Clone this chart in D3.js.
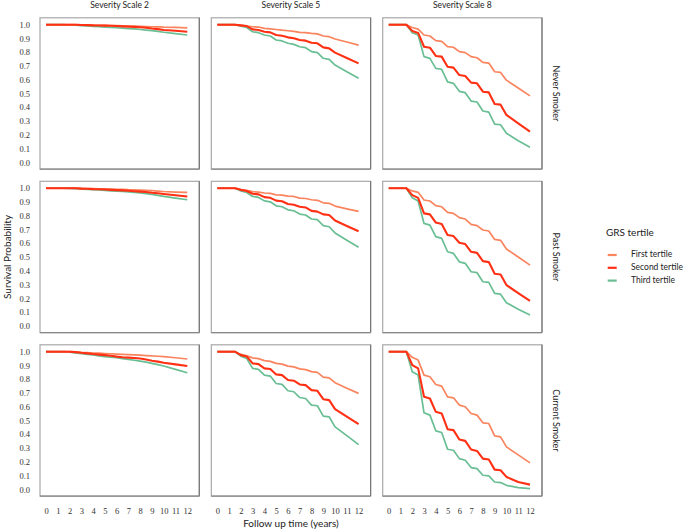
<!DOCTYPE html>
<html>
<head>
<meta charset="utf-8">
<script src="https://cdn.jsdelivr.net/npm/d3@7"></script>
<style>
  html, body { margin: 0; padding: 0; background: #fff; }
  svg { display: block; }
</style>
</head>
<body>
<svg id="chart" width="685" height="532"></svg>
<script>
// ---------- data ----------
const times = [0, 1.5, 2, 2.5, 3, 3.5, 4, 4.5, 5, 5.5, 6, 6.5, 7, 7.5, 8, 8.5, 9, 9.5, 10, 11, 12];
const severities = ["Severity Scale 2", "Severity Scale 5", "Severity Scale 8"];
const smokers = ["Never Smoker", "Past Smoker", "Current Smoker"];
const tertiles = ["First tertile", "Second tertile", "Third tertile"];
const xTicks = [0, 1, 2, 3, 4, 5, 6, 7, 8, 9, 10, 11, 12];
const yTicks = [0, 0.1, 0.2, 0.3, 0.4, 0.5, 0.6, 0.7, 0.8, 0.9, 1.0];

const never_s2_first  = [1,1,1,1,0.999,0.998,0.997,0.996,0.995,0.994,0.993,0.992,0.99,0.989,0.988,0.987,0.985,0.984,0.982,0.98,0.977];
const never_s2_second = [1,1,1,1,0.998,0.997,0.995,0.994,0.993,0.992,0.99,0.988,0.986,0.984,0.981,0.978,0.972,0.968,0.962,0.956,0.949];
const never_s2_third  = [1,1,0.998,0.996,0.993,0.991,0.988,0.986,0.983,0.98,0.978,0.975,0.972,0.969,0.965,0.961,0.957,0.951,0.945,0.935,0.925];

const never_s5_first  = [1,1,0.995,0.99,0.985,0.983,0.973,0.97,0.965,0.96,0.956,0.952,0.944,0.942,0.937,0.933,0.918,0.913,0.896,0.874,0.852];
const never_s5_second = [1,1,0.995,0.99,0.966,0.961,0.949,0.944,0.925,0.92,0.908,0.901,0.889,0.884,0.869,0.865,0.835,0.828,0.797,0.758,0.719];
const never_s5_third  = [1,1,0.99,0.98,0.949,0.942,0.925,0.918,0.889,0.882,0.865,0.857,0.84,0.833,0.804,0.797,0.756,0.748,0.707,0.658,0.61];

const never_s8_first  = [1,1,0.98,0.968,0.925,0.918,0.884,0.879,0.84,0.836,0.804,0.797,0.768,0.76,0.726,0.721,0.658,0.653,0.597,0.54,0.483];
const never_s8_second = [1,1,0.955,0.94,0.84,0.833,0.773,0.768,0.695,0.688,0.634,0.627,0.579,0.574,0.513,0.508,0.424,0.419,0.344,0.283,0.223];
const never_s8_third  = [1,1,0.942,0.925,0.768,0.755,0.683,0.676,0.584,0.574,0.516,0.506,0.445,0.438,0.373,0.365,0.278,0.273,0.211,0.157,0.109];

const past_s2_first  = [1,1,1,1,0.999,0.998,0.997,0.996,0.995,0.994,0.992,0.991,0.989,0.988,0.986,0.984,0.982,0.979,0.976,0.972,0.969];
const past_s2_second = [1,1,1,1,0.997,0.996,0.993,0.992,0.99,0.988,0.986,0.984,0.981,0.978,0.975,0.972,0.967,0.963,0.958,0.949,0.94];
const past_s2_third  = [1,1,0.999,0.997,0.994,0.992,0.989,0.987,0.984,0.981,0.978,0.976,0.973,0.97,0.966,0.961,0.955,0.948,0.94,0.928,0.916];

const past_s5_first  = [1,1,0.99,0.985,0.975,0.972,0.965,0.962,0.952,0.95,0.942,0.94,0.928,0.925,0.916,0.912,0.894,0.89,0.87,0.85,0.831];
const past_s5_second = [1,1,0.988,0.98,0.96,0.955,0.935,0.93,0.91,0.905,0.885,0.88,0.865,0.86,0.835,0.83,0.81,0.805,0.765,0.725,0.687];
const past_s5_third  = [1,1,0.98,0.969,0.94,0.933,0.908,0.901,0.872,0.865,0.843,0.836,0.812,0.805,0.776,0.771,0.728,0.72,0.675,0.622,0.571];

const past_s8_first  = [1,1,0.98,0.97,0.914,0.907,0.873,0.865,0.824,0.817,0.786,0.776,0.737,0.728,0.696,0.689,0.628,0.621,0.558,0.5,0.441];
const past_s8_second = [1,1,0.95,0.93,0.817,0.81,0.75,0.74,0.66,0.652,0.604,0.594,0.538,0.53,0.47,0.463,0.378,0.373,0.296,0.238,0.182];
const past_s8_third  = [1,1,0.93,0.907,0.744,0.732,0.648,0.635,0.538,0.526,0.465,0.454,0.393,0.386,0.32,0.315,0.235,0.23,0.168,0.12,0.078];

const current_s2_first  = [1,1,1,0.999,0.996,0.994,0.99,0.989,0.987,0.985,0.983,0.981,0.979,0.977,0.975,0.972,0.969,0.967,0.964,0.956,0.947];
const current_s2_second = [1,1,1,0.997,0.992,0.988,0.983,0.979,0.975,0.97,0.964,0.96,0.957,0.954,0.951,0.943,0.934,0.928,0.92,0.908,0.896];
const current_s2_third  = [1,1,0.997,0.992,0.985,0.981,0.976,0.97,0.964,0.96,0.956,0.95,0.944,0.938,0.932,0.924,0.915,0.906,0.896,0.872,0.847];

const current_s5_first  = [1,1,0.98,0.97,0.955,0.95,0.935,0.93,0.915,0.91,0.895,0.89,0.875,0.87,0.855,0.85,0.815,0.81,0.775,0.735,0.697];
const current_s5_second = [1,1,0.975,0.965,0.915,0.91,0.879,0.874,0.835,0.83,0.794,0.789,0.762,0.757,0.721,0.716,0.655,0.648,0.583,0.528,0.473];
const current_s5_third  = [1,1,0.968,0.951,0.879,0.871,0.83,0.823,0.769,0.762,0.716,0.709,0.667,0.66,0.612,0.607,0.532,0.527,0.454,0.39,0.325];

const current_s8_first  = [1,1,0.959,0.939,0.83,0.818,0.762,0.75,0.672,0.665,0.612,0.6,0.551,0.539,0.483,0.478,0.388,0.381,0.308,0.25,0.192];
const current_s8_second = [1,1,0.903,0.879,0.672,0.66,0.563,0.551,0.437,0.43,0.362,0.352,0.289,0.279,0.223,0.216,0.143,0.138,0.09,0.053,0.034];
const current_s8_third  = [1,1,0.854,0.83,0.556,0.539,0.425,0.413,0.291,0.284,0.223,0.211,0.158,0.15,0.102,0.097,0.053,0.049,0.029,0.012,0.005];

const grid = [
  [[never_s2_first, never_s2_second, never_s2_third],
   [never_s5_first, never_s5_second, never_s5_third],
   [never_s8_first, never_s8_second, never_s8_third]],
  [[past_s2_first, past_s2_second, past_s2_third],
   [past_s5_first, past_s5_second, past_s5_third],
   [past_s8_first, past_s8_second, past_s8_third]],
  [[current_s2_first, current_s2_second, current_s2_third],
   [current_s5_first, current_s5_second, current_s5_third],
   [current_s8_first, current_s8_second, current_s8_third]]
];

// ---------- styling / layout ----------
const colors = ["#F9845E", "#FF3014", "#69BE93"];
const widths = [1.7, 2.1, 1.7];
const sans = "Lato, 'Open Sans', sans-serif";
const tickFont = "'Liberation Serif', serif";

const panelLeft = [40, 211.3, 382.7];
const panelTop = [17.8, 181.3, 344.8];
const pw = 159.3, ph = 151.3;

const x = d3.scaleLinear().domain([0, 12]).range([6, 147.3]);
const y = d3.scaleLinear().domain([0, 1]).range([144.5, 6.9]);
const color = d3.scaleOrdinal().domain(tertiles).range(colors);

const svg = d3.select("#chart");
const line = d3.line().x((d, i) => x(times[i])).y(d => y(d));

smokers.forEach((sm, r) => {
  severities.forEach((sev, c) => {
    const g = svg.append("g").attr("transform", `translate(${panelLeft[c]},${panelTop[r]})`);
    g.append("rect").attr("x", 0).attr("y", 0).attr("width", pw).attr("height", ph)
      .attr("fill", "#fff").attr("stroke", "#a8a8a8").attr("stroke-width", 1.2);
    g.append("line").attr("x1", pw).attr("x2", pw).attr("y1", 0).attr("y2", ph)
      .attr("stroke", "#777").attr("stroke-width", 1.2);
    g.append("line").attr("x1", 0).attr("x2", pw).attr("y1", ph).attr("y2", ph)
      .attr("stroke", "#888").attr("stroke-width", 1.2);

    // draw third, then first, then second on top
    [2, 0, 1].forEach(k => {
      g.append("path").datum(grid[r][c][k])
        .attr("d", line)
        .attr("fill", "none")
        .attr("stroke", color(tertiles[k]))
        .attr("stroke-width", widths[k])
        .attr("stroke-linejoin", "round");
    });

    if (c === 0) {
      const ya = g.append("g").call(d3.axisLeft(y).tickValues(yTicks).tickSize(0).tickPadding(10).tickFormat(d3.format(".1f")));
      ya.select(".domain").remove();
      ya.selectAll("text").attr("font-family", tickFont).attr("font-size", 8.5).attr("fill", "#333");
    }
    if (r === 2) {
      const xa = g.append("g").attr("transform", `translate(0,${ph})`)
        .call(d3.axisBottom(x).tickValues(xTicks).tickSize(0).tickPadding(12).tickFormat(d3.format("d")));
      xa.select(".domain").remove();
      xa.selectAll("text").attr("font-family", tickFont).attr("font-size", 8.5).attr("fill", "#333");
    }
    if (r === 0) {
      svg.append("text").attr("x", panelLeft[c] + pw / 2).attr("y", 8)
        .attr("text-anchor", "middle").attr("font-family", sans).attr("font-size", 8.5)
        .attr("fill", "#222").text(sev);
    }
  });
  const cy = panelTop[r] + ph / 2;
  svg.append("text").attr("transform", `translate(555,${cy}) rotate(90)`)
    .attr("text-anchor", "middle").attr("dominant-baseline", "middle")
    .attr("font-family", sans).attr("font-size", 9).attr("fill", "#222").text(sm);
});

// axis titles
svg.append("text").attr("transform", `translate(8,${(panelTop[0] + panelTop[2] + ph) / 2}) rotate(-90)`)
  .attr("text-anchor", "middle").attr("dominant-baseline", "middle")
  .attr("font-family", sans).attr("font-size", 10).attr("fill", "#222").text("Survival Probability");
svg.append("text").attr("x", panelLeft[1] + pw / 2).attr("y", 527)
  .attr("text-anchor", "middle").attr("font-family", sans).attr("font-size", 10)
  .attr("fill", "#222").text("Follow up time (years)");

// legend
const lg = svg.append("g").attr("transform", "translate(606,0)");
lg.append("text").attr("x", 0).attr("y", 236).attr("font-family", sans).attr("font-size", 10)
  .attr("fill", "#222").text("GRS tertile");
tertiles.forEach((t, i) => {
  const ly = 255 + i * 12.8;
  lg.append("line").attr("x1", 1.7).attr("x2", 10.7).attr("y1", ly).attr("y2", ly)
    .attr("stroke", color(t)).attr("stroke-width", 2.2);
  lg.append("text").attr("x", 25).attr("y", ly).attr("dominant-baseline", "middle")
    .attr("font-family", sans).attr("font-size", 8.5).attr("fill", "#222").text(t);
});
</script>
</body>
</html>
